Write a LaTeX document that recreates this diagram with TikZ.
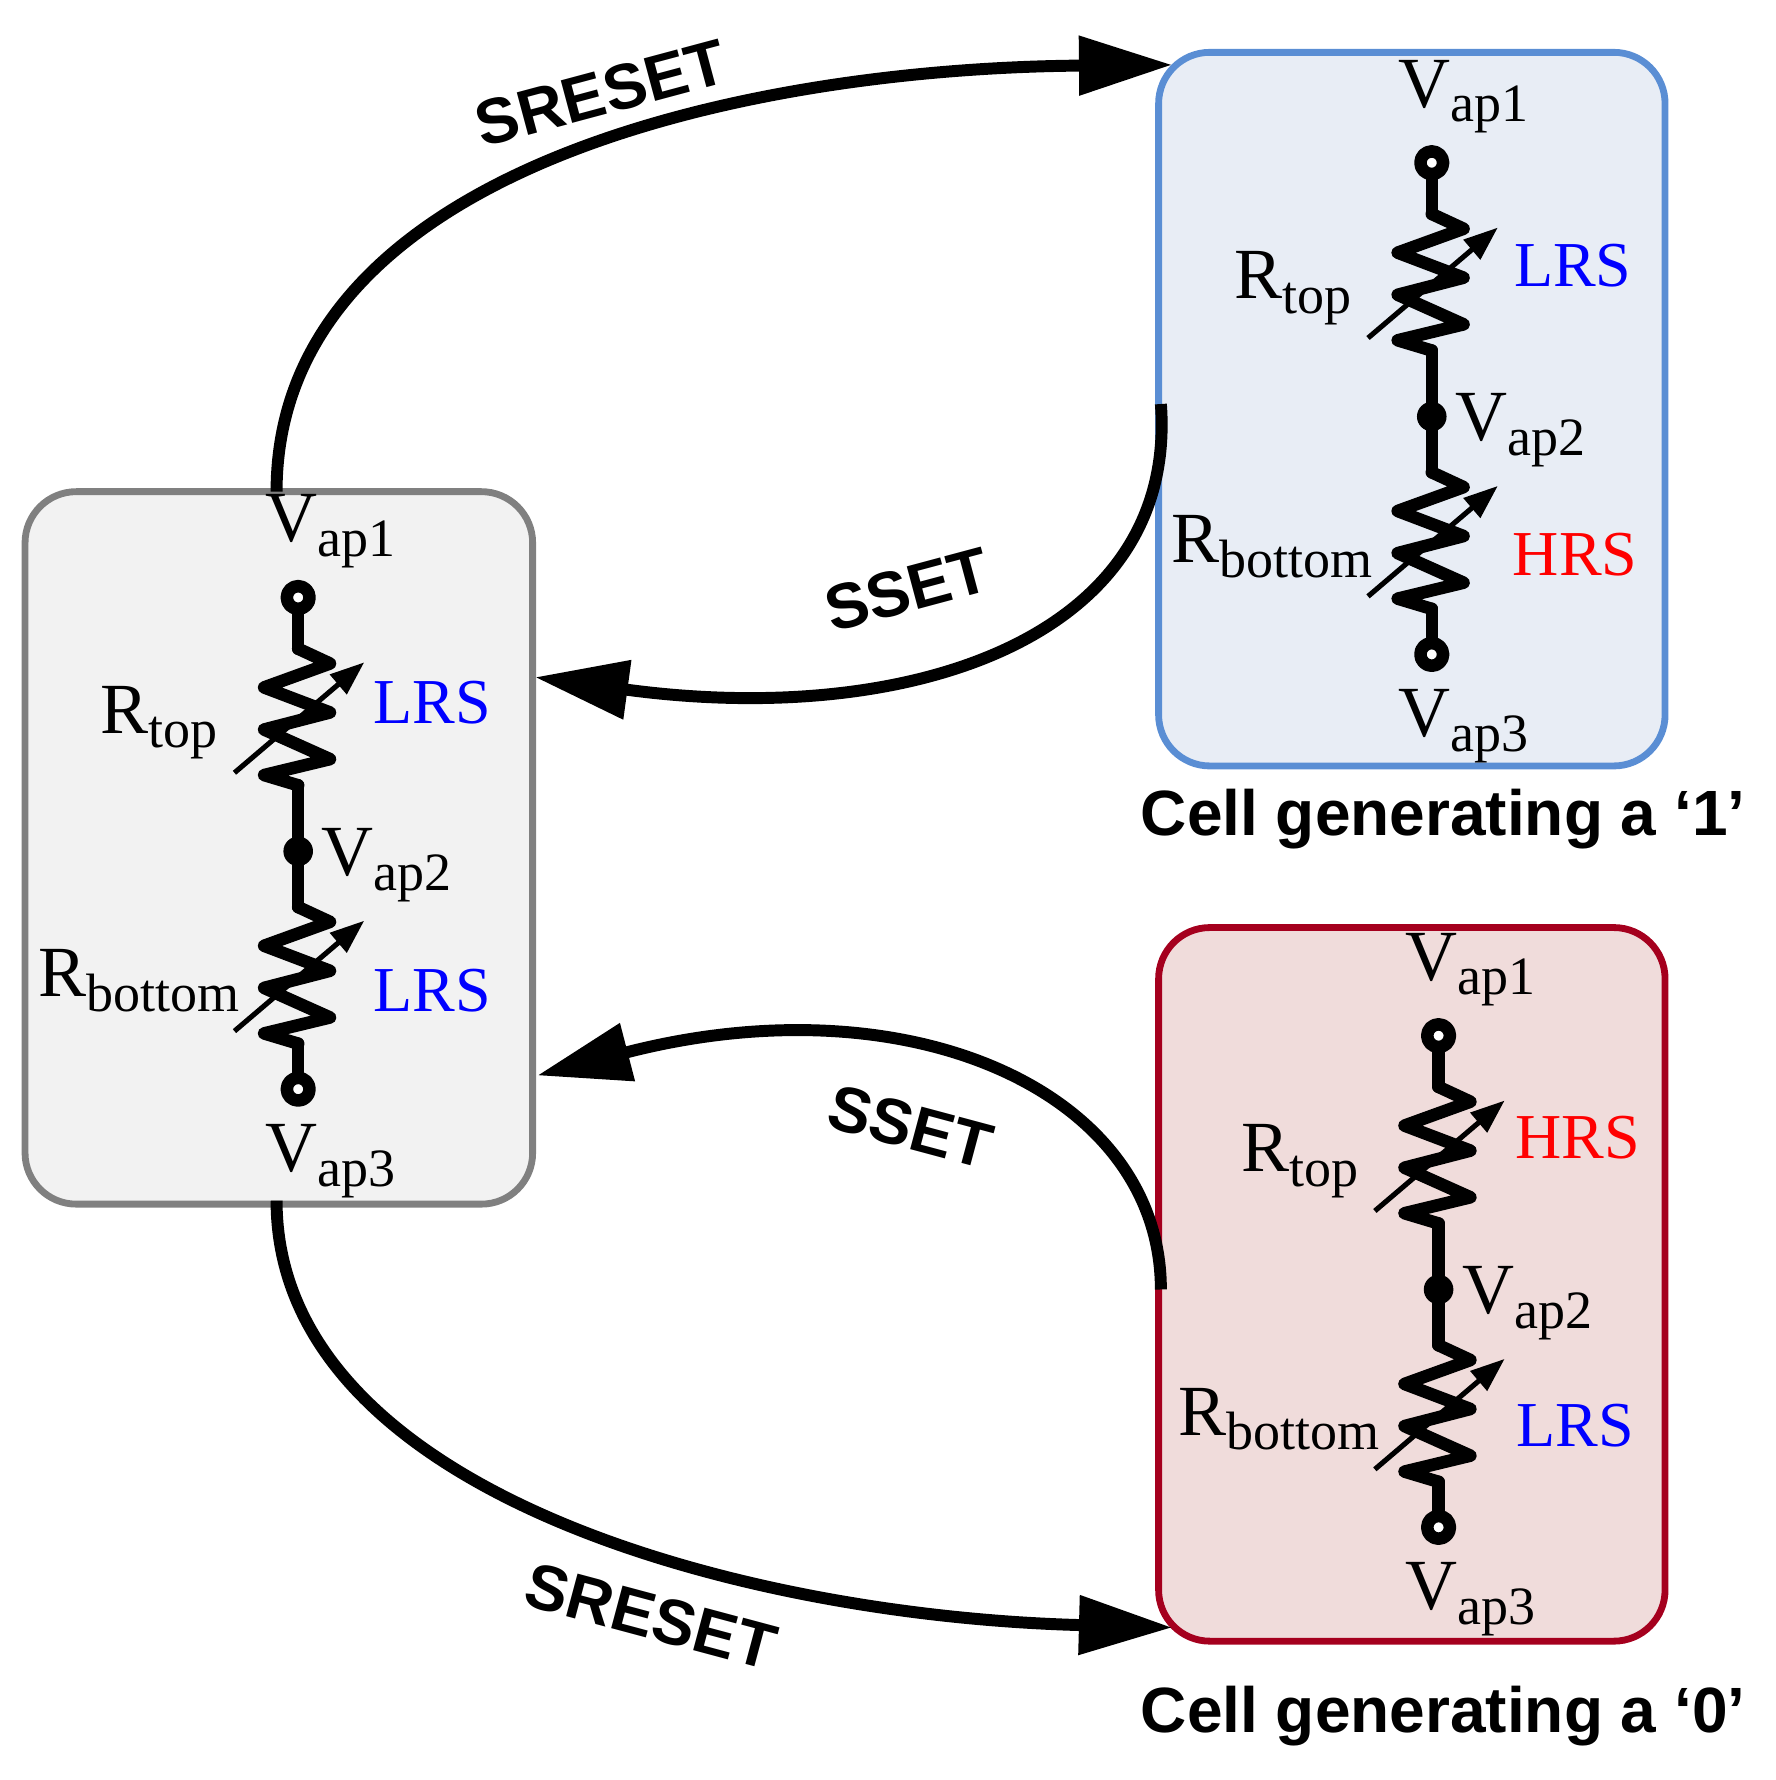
\documentclass[tikz,border=0pt]{standalone}
\usepackage{fontspec}
\setmainfont{Liberation Serif}
\newfontfamily\sansb{Liberation Sans}
\usetikzlibrary{arrows.meta}
\definecolor{boxL}{HTML}{F2F2F2}\definecolor{bdL}{HTML}{808080}
\definecolor{boxT}{HTML}{E8EDF5}\definecolor{bdT}{HTML}{5A8ED4}
\definecolor{boxB}{HTML}{F0DCDB}\definecolor{bdB}{HTML}{A5001E}
\newcommand\lbl[2]{#1\raisebox{-0.45ex}{\fontsize{13.5pt}{13.5pt}\selectfont #2}}
\tikzset{
 x=0.1mm,y=-0.1mm,
 wire/.style={line width=1.1mm,line join=round,line cap=round},
 conn/.style={line width=1.05mm,-{Triangle[length=8.2mm,width=5mm]}},
 cellbox/.style={line width=0.6mm,rounded corners=4.5mm},
 vt/.style={font=\fontsize{18pt}{18pt}\selectfont},
 st/.style={font=\fontsize{16pt}{16pt}\selectfont},
 tl/.style={font=\sansb\bfseries\fontsize{16pt}{16pt}\selectfont},
 varres/.pic={
  \draw[wire] (0,0) -- (28,13) -- (-30,34) -- (28,56) -- (-30,71) -- (28,97) -- (-30,111) -- (0,120);
  \draw[line width=0.45mm,-{Triangle[length=3mm,width=2.2mm]}] (-56,109) -- (58,12);
 },
 cell/.pic={
  \draw[wire] (0,525) -- (0,570);
  \pic at (0,570) {varres};
  \draw[wire] (0,690) -- (0,797);
  \pic at (0,797) {varres};
  \draw[wire] (0,917) -- (0,957);
  \draw[wire,fill=white] (0,525) circle (10);
  \draw[wire,fill=white] (0,957) circle (10);
  \fill (0,748) circle (13);
  \node[vt] (-v1) at (28,467) {\lbl{V}{ap1}};
  \node[vt] (-rt) at (-122,635) {\lbl{R}{top}};
  \node[vt] (-v2) at (78,760) {\lbl{V}{ap2}};
  \node[vt] (-rb) at (-140,862) {\lbl{R}{bottom}};
  \node[vt] (-v3) at (28,1020) {\lbl{V}{ap3}};
 }
}
\begin{document}
\begin{tikzpicture}
\useasboundingbox (0,0) rectangle (1560,1564);
\draw[cellbox,fill=boxL,draw=bdL] (22,432) rectangle (468,1058);
\draw[cellbox,fill=boxT,draw=bdT] (1018,46) rectangle (1463,673);
\draw[cellbox,fill=boxB,draw=bdB] (1018,815) rectangle (1463,1442);
\coordinate (Lt) at (243,432);
\coordinate (Lb) at (243,1055);
\coordinate (Lr1) at (470,595);
\coordinate (Lr2) at (472,945);
\coordinate (Tl) at (1030,57);
\coordinate (Tb) at (1020,355);
\coordinate (Bl) at (1030,1430);
\coordinate (Bb) at (1020,1133);
\pic (L) at (262,0) {cell};
\node[st,text=blue] (Ls1) at (380,617) {LRS};
\node[st,text=blue] (Ls2) at (380,870) {LRS};
\pic (T) at (1258,-382) {cell};
\node[st,text=blue] (Ts1) at (1382,233) {LRS};
\node[st,text=red] (Ts2) at (1384,487) {HRS};
\pic (B) at (1264,385) {cell};
\node[st,text=red] (Bs1) at (1386,1000) {HRS};
\node[st,text=blue] (Bs2) at (1384,1253) {LRS};
\node[tl] (c1) at (1268,720) {Cell generating a ‘1’};
\node[tl] (c0) at (1268,1508) {Cell generating a ‘0’};
\draw[conn] (Lt) .. controls (243,150) and (650,60) .. (Tl);
\draw[conn] (Tb) .. controls (1035,560) and (800,640) .. (Lr1);
\draw[conn] (Bb) .. controls (1020,960) and (800,860) .. (Lr2);
\draw[conn] (Lb) .. controls (243,1310) and (650,1420) .. (Bl);
\node[tl,rotate=15] (a1) at (528,82) {SRESET};
\node[tl,rotate=15] (a2) at (797,518) {SSET};
\node[tl,rotate=-15] (a3) at (800,990) {SSET};
\node[tl,rotate=-15] (a4) at (572,1420) {SRESET};
\end{tikzpicture}
\end{document}
